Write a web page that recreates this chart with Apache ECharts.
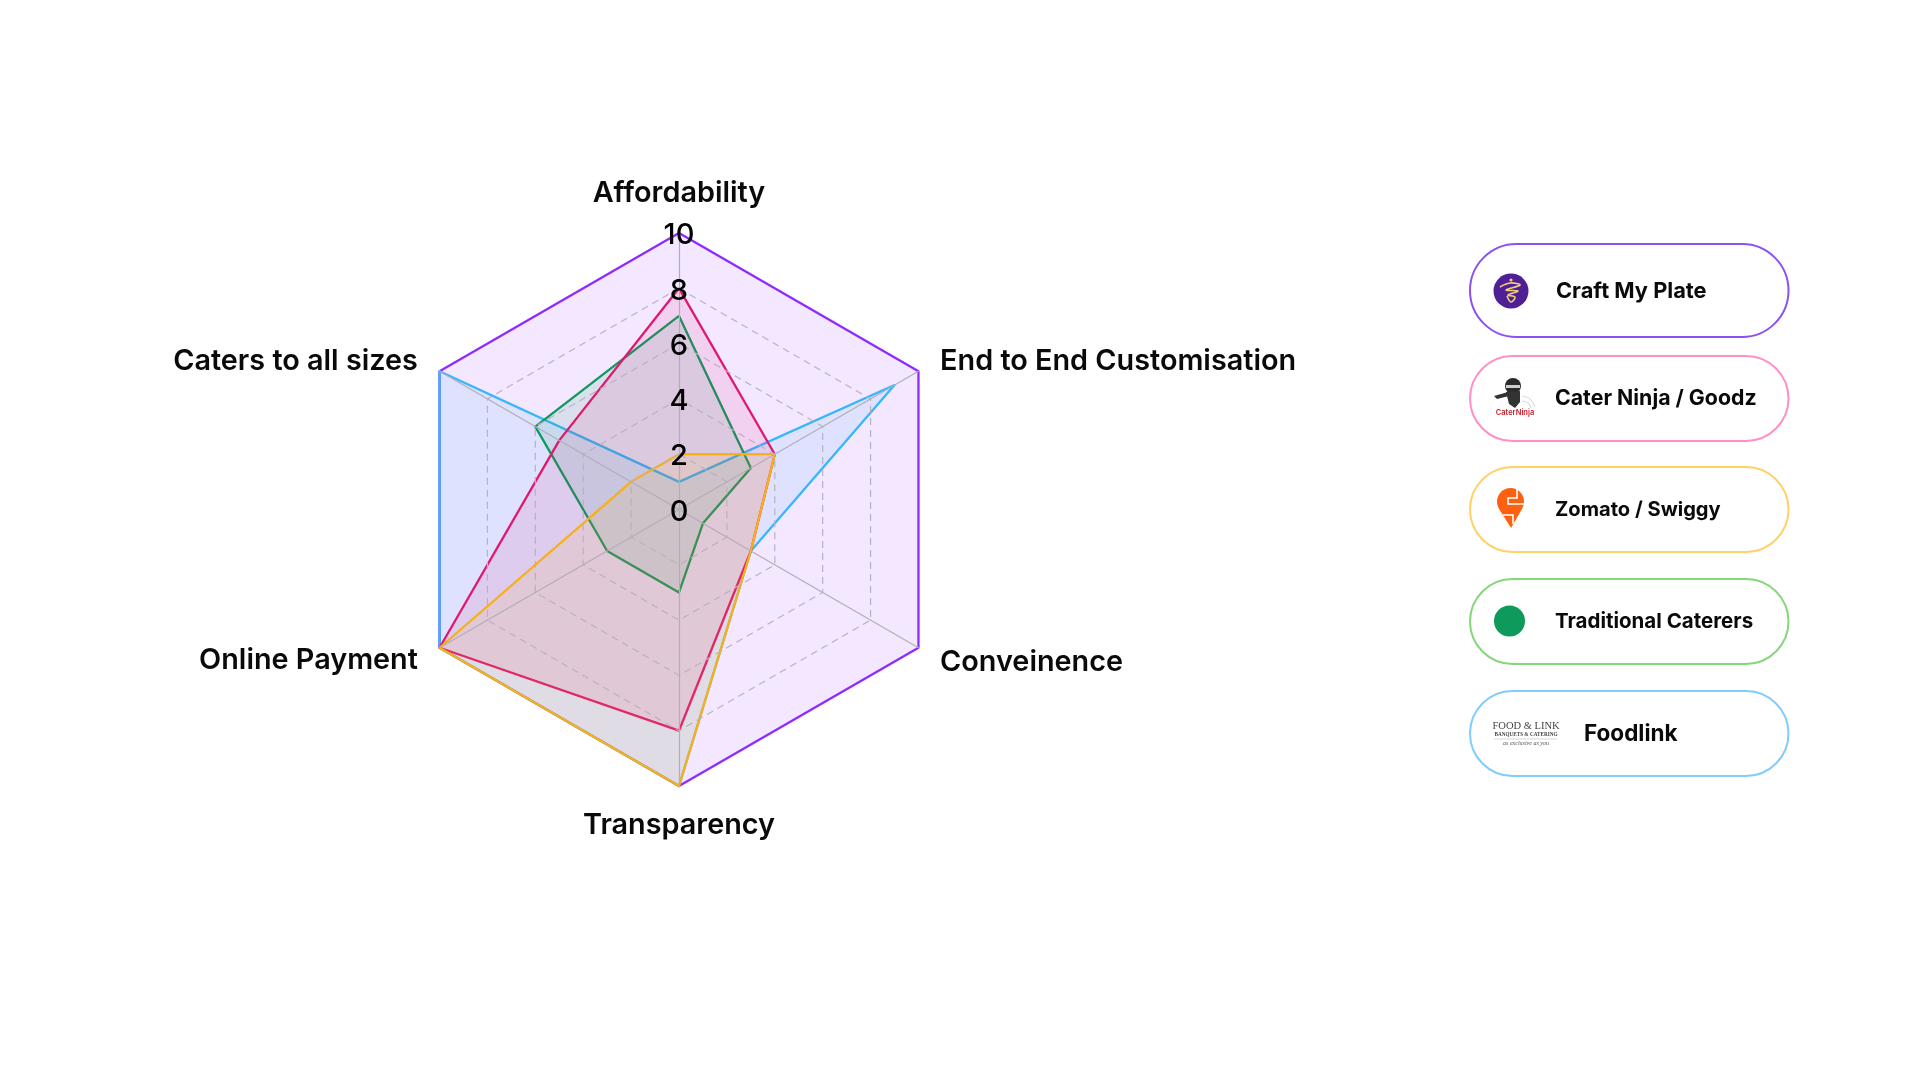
<!DOCTYPE html>
<html><head><meta charset="utf-8">
<style>html,body{margin:0;padding:0;background:#fff}#c{width:1920px;height:1080px}</style>
<script src="https://cdn.jsdelivr.net/npm/echarts@6/dist/echarts.min.js"></script>
</head><body><div id="c"></div>
<script>
// Clockwise from the top, as read in the picture
const axisNames = ['Affordability','End to End Customisation','Conveinence','Transparency','Online Payment','Caters to all sizes'];
const craftMyPlate = [10,10,10,10,10,10];
const caterNinja   = [8,4,3,8,10,5];
const zomatoSwiggy = [2,4,3,10,10,2];
const traditional  = [7,3,1,3,3,6];
const foodlink     = [1,9,3,10,10,10];
const axisMax = 10;
const seriesNames = ['Craft My Plate','Cater Ninja / Goodz','Zomato / Swiggy','Traditional Caterers','Foodlink'];

// ECharts lays radar indicators out counter-clockwise, so reorder clockwise data
const ccw = a => [a[0]].concat(a.slice(1).reverse());
const FONT = 'Inter';

const lineCols = ['#8f2bff','#e0186e','#f9b018','#0f9a5e','#38b6ff'];
const pillCols = ['#8a52f5','#ff90c6','#ffd266','#86d67c','#80ccff'];
const values = [craftMyPlate,caterNinja,zomatoSwiggy,traditional,foodlink];
const drawOrder = [0,4,3,1,2];

const pillBoxes = [[244,93],[356,85],[467,85],[579,85],[691,85]];
const textX = [1556,1555,1555,1555,1584];
const textFont = ['700 21.8px ','700 21.3px ','700 20.1px ','700 20.5px ','700 22.5px '];

const g = [];
pillBoxes.forEach((b,i)=>{
  g.push({type:'rect',shape:{x:1470,y:b[0],width:318.5,height:b[1],r:b[1]/2},style:{fill:'#fff',stroke:pillCols[i],lineWidth:2}});
  g.push({type:'text',style:{x:textX[i],y:b[0]+b[1]/2+0.5,text:seriesNames[i],fill:'#0a0a0a',font:textFont[i]+FONT,textAlign:'left',textVerticalAlign:'middle'}});
});
// Craft My Plate logo
g.push({type:'circle',shape:{cx:1511,cy:291,r:17.5},style:{fill:'#4f1f96'}});
g.push({type:'polyline',shape:{smooth:0.4,points:[[1500,287],[1510,283],[1520,285],[1506,290],[1518,291],[1508,295],[1515,297],[1511,302],[1507,296]]},style:{fill:'none',stroke:'#f0cf7a',lineWidth:1.6}});
g.push({type:'circle',shape:{cx:1511,cy:280,r:1.6},style:{fill:'#f0cf7a'}});
// Cater Ninja logo
g.push({type:'circle',shape:{cx:1513,cy:386,r:8},style:{fill:'#2b2b2b'}});
g.push({type:'polygon',shape:{points:[[1506,392],[1520,391],[1520,402],[1515,408],[1509,404]]},style:{fill:'#333'}});
g.push({type:'polygon',shape:{points:[[1494,396],[1508,392],[1509,396],[1497,399]]},style:{fill:'#333'}});
g.push({type:'rect',shape:{x:1506,y:385,width:14,height:3},style:{fill:'#cfcfcf'}});
g.push({type:'polyline',shape:{smooth:0.4,points:[[1522,396],[1530,399],[1535,407]]},style:{fill:'none',stroke:'#c9c9c9',lineWidth:0.8}});
g.push({type:'polyline',shape:{smooth:0.4,points:[[1522,401],[1528,403],[1531,408]]},style:{fill:'none',stroke:'#c9c9c9',lineWidth:0.8}});
g.push({type:'text',style:{x:1515,y:412.5,text:'CaterNinja',fill:'#c8202c',font:'600 7.5px '+FONT,textAlign:'center',textVerticalAlign:'middle'}});
// Swiggy logo
g.push({type:'circle',shape:{cx:1510.5,cy:501.5,r:13.5},style:{fill:'#fc6011'}});
g.push({type:'polygon',shape:{points:[[1498.5,508],[1522.5,508],[1511,528]]},style:{fill:'#fc6011'}});
g.push({type:'polyline',shape:{points:[[1524,504],[1508,504],[1508,498],[1517,498],[1517,489]]},style:{fill:'none',stroke:'#fff',lineWidth:1.6}});
g.push({type:'polyline',shape:{points:[[1503,515],[1513,515],[1513,524]]},style:{fill:'none',stroke:'#fff',lineWidth:1.6}});
// Traditional dot
g.push({type:'circle',shape:{cx:1509.5,cy:621,r:15.5},style:{fill:'#0e9a5a'}});
// Foodlink logo
g.push({type:'text',style:{x:1526,y:726,text:'FOOD & LINK',fill:'#444',font:'10.5px "Liberation Serif"',textAlign:'center',textVerticalAlign:'middle'}});
g.push({type:'text',style:{x:1526,y:734.5,text:'BANQUETS & CATERING',fill:'#444',font:'bold 5.2px "Liberation Serif"',textAlign:'center',textVerticalAlign:'middle'}});
g.push({type:'line',shape:{x1:1494,y1:739,x2:1557,y2:739},style:{stroke:'#bbb',lineWidth:0.6}});
g.push({type:'text',style:{x:1526,y:743.5,text:'as exclusive as you',fill:'#555',font:'italic 6px "Liberation Serif"',textAlign:'center',textVerticalAlign:'middle'}});

const indicator = ccw(axisNames).map((n,i)=>({name:n,min:0,max:axisMax}));
indicator[0].axisLabel = {show:true};

const nameStyle = {color:'#0a0a0a',fontFamily:FONT,fontWeight:600,fontSize:28.8};
const tickStyle = {color:'#000',fontFamily:FONT,fontWeight:500,fontSize:29};
const nudged = ['End to End Customisation','Caters to all sizes','Conveinence'];
const ringColor = '#b9b1c0';

const chart = echarts.init(document.getElementById('c'),null,{renderer:'canvas'});
chart.setOption({
  animation:false,
  backgroundColor:'#fff',
  radar:{
    z:3,
    center:[679,509.5],
    radius:276.5,
    startAngle:90,
    splitNumber:5,
    shape:'polygon',
    indicator,
    nameGap:25,
    axisName:Object.assign({},nameStyle,{
      formatter:n=>nudged.includes(n)?'{d|'+n+'}':n,
      rich:{d:Object.assign({},nameStyle,{padding:[5,0,0,0]})}
    }),
    axisLine:{show:true,lineStyle:{color:'#b3adb9',width:1.2}},
    axisTick:{show:false},
    axisLabel:Object.assign({},tickStyle,{
      show:false,margin:0,align:'center',verticalAlign:'middle',
      formatter:'{v|{value}}',
      rich:{v:Object.assign({},tickStyle,{padding:[5,0,0,0]})}
    }),
    splitLine:{show:true,lineStyle:{color:[ringColor,ringColor,ringColor,ringColor,ringColor,'rgba(0,0,0,0)'],width:1.2,type:[7,5]}},
    splitArea:{show:false}
  },
  series: drawOrder.map(i=>({
    type:'radar',
    z:2,
    name:seriesNames[i],
    symbol:'none',
    silent:true,
    lineStyle:{color:lineCols[i],width:2.3},
    itemStyle:{color:lineCols[i]},
    areaStyle:{color:lineCols[i],opacity:0.11},
    data:[{value:ccw(values[i]),name:seriesNames[i]}]
  })),
  graphic:g
});
</script></body></html>
